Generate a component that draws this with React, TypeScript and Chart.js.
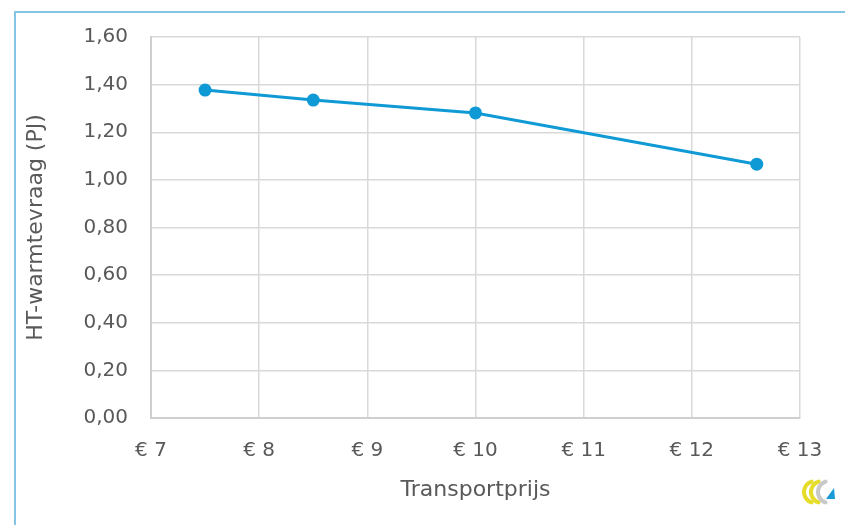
import React, { useEffect, useRef } from "react";
import { Chart, registerables } from "chart.js";

Chart.register(...registerables);

const prices = [7.5, 8.5, 10, 12.6];
const demand = [1.377, 1.335, 1.281, 1.066];
const xTitle = "Transportprijs";
const yTitle = "HT-warmtevraag (PJ)";

const FONT = "'DejaVu Sans', sans-serif";
const TEXT = "#595959";

const logoPlugin = {
  id: "logo",
  afterDraw(chart: any) {
    const ctx = chart.ctx;
    ctx.save();
    ctx.lineCap = "round";
    const cx = 818, cy = 492;
    ctx.lineWidth = 4;
    ctx.strokeStyle = "#e6dc2c";
    ctx.beginPath();
    ctx.arc(cx - 3, cy, 11, Math.PI * 0.6, Math.PI * 1.4);
    ctx.stroke();
    ctx.beginPath();
    ctx.arc(cx + 4, cy, 11, Math.PI * 0.6, Math.PI * 1.4);
    ctx.stroke();
    ctx.strokeStyle = "#c9c9c9";
    ctx.beginPath();
    ctx.arc(cx + 11, cy, 11, Math.PI * 0.6, Math.PI * 1.4);
    ctx.stroke();
    ctx.fillStyle = "#1a9ad6";
    ctx.beginPath();
    ctx.moveTo(826, 499);
    ctx.lineTo(835, 499);
    ctx.lineTo(834, 488);
    ctx.closePath();
    ctx.fill();
    ctx.restore();
  },
};

export default function App() {
  const ref = useRef<HTMLCanvasElement | null>(null);
  useEffect(() => {
    if (!ref.current) return;
    const chart = new Chart(ref.current, {
      type: "line",
      data: {
        datasets: [
          {
            data: prices.map((p, i) => ({ x: p, y: demand[i] })),
            borderColor: "#0f9ad6",
            backgroundColor: "#0f9ad6",
            borderWidth: 3,
            pointRadius: 6.5,
            pointBackgroundColor: "#0f9ad6",
            pointBorderWidth: 0,
            tension: 0,
          },
        ],
      },
      options: {
        animation: false,
        responsive: false,
        layout: { padding: { left: 14, top: 37, right: 45, bottom: 0 } },
        plugins: { legend: { display: false }, tooltip: { enabled: false } },
        scales: {
          x: {
            type: "linear",
            min: 7,
            max: 13,
            grid: { color: "#d9d9d9", lineWidth: 1.5, drawTicks: false },
            border: { color: "#cfcfcf", width: 2 },
            ticks: {
              stepSize: 1,
              padding: 21,
              color: TEXT,
              font: { family: FONT, size: 20 },
              callback: (v: any) => "€ " + v,
            },
            title: {
              display: true,
              text: xTitle,
              color: TEXT,
              font: { family: FONT, size: 22 },
              padding: { top: 0, bottom: 22 },
            },
            afterFit: (s: any) => {
              s.height = 107;
            },
          },
          y: {
            min: 0,
            max: 1.6,
            grid: { color: "#d9d9d9", lineWidth: 1.5, drawTicks: false },
            border: { color: "#cfcfcf", width: 2 },
            ticks: {
              stepSize: 0.2,
              padding: 23,
              color: TEXT,
              font: { family: FONT, size: 20 },
              callback: (v: any) => Number(v).toFixed(2).replace(".", ","),
            },
            title: {
              display: true,
              text: yTitle,
              color: TEXT,
              font: { family: FONT, size: 22 },
              padding: { top: 9, bottom: 0 },
            },
            afterFit: (s: any) => {
              s.width = 137;
            },
          },
        },
      },
      plugins: [logoPlugin],
    });
    return () => chart.destroy();
  }, []);
  return (
    <div style={{ position: "fixed", left: 0, top: 0, width: 845, height: 525, background: "#fff", overflow: "hidden" }}>
      <div
        style={{
          position: "absolute",
          left: 14,
          top: 11,
          width: 900,
          height: 600,
          borderLeft: "2px solid #84c5e5",
          borderTop: "2px solid #84c5e5",
        }}
      />
      <canvas ref={ref} width={845} height={525} style={{ position: "absolute", left: 0, top: 0 }} />
    </div>
  );
}
